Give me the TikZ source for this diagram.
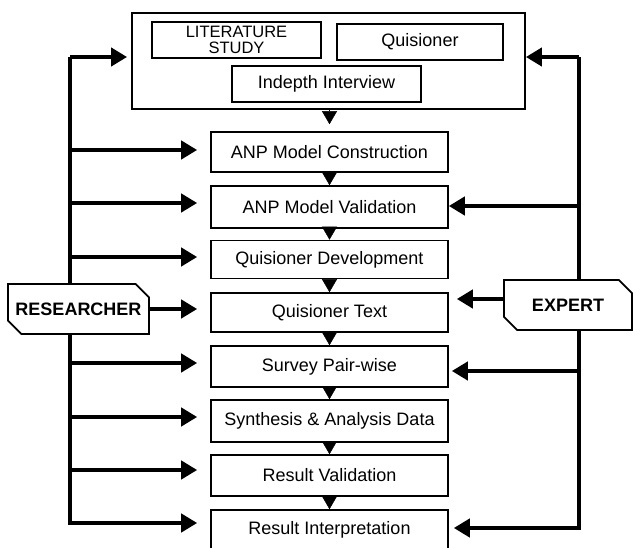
\documentclass[tikz,border=0pt]{standalone}
\usepackage{fontspec}
\setmainfont{Liberation Sans}
\usetikzlibrary{arrows.meta,shapes.misc}
\begin{document}
\begin{tikzpicture}[x=1pt,y=-1pt,
 stepbox/.style={draw, line width=1.6pt, fill=white, minimum width=237pt, minimum height=40pt, inner sep=0pt, font=\fontsize{18}{20}\selectfont},
 inbox/.style={draw, line width=1.6pt, fill=white, minimum height=36pt, inner sep=0pt, font=\fontsize{18}{20}\selectfont},
 outerbox/.style={draw, line width=1.8pt, fill=white, minimum width=393pt, minimum height=96pt, inner sep=0pt},
 actor/.style={draw, line width=1.8pt, fill=white, chamfered rectangle, chamfered rectangle corners={north east,south west}, chamfered rectangle xsep=7pt, chamfered rectangle ysep=7pt, minimum height=50pt, inner sep=0pt, font=\fontsize{18}{20}\selectfont\bfseries},
 harrow/.style={line width=4.5pt, -{Triangle[length=16pt,width=18pt]}},
 vline/.style={line width=4pt},
 darrow/.style={line width=0.4pt, -{Triangle[length=13pt,width=15pt]}}
]
\useasboundingbox (0,0) rectangle (633,548);

% top box
\node[outerbox] (top) at (328.5,61) {};
\node[inbox, minimum width=169pt, align=center, font=\fontsize{16.5}{16.5}\selectfont] (lit) at (236.5,40) {LITERATURE\\STUDY};
\node[inbox, minimum width=166pt] (qui) at (420,42) {Quisioner};
\node[inbox, minimum width=189pt] (ind) at (326.5,84) {Indepth Interview};

% steps
\node[stepbox] (s1) at (329.5,152) {ANP Model Construction};
\node[stepbox, minimum height=42pt] (s2) at (329.5,207) {ANP Model Validation};
\node[stepbox, minimum height=38pt] (s3) at (329.5,259.5) {Quisioner Development};
\node[stepbox, minimum height=39pt] (s4) at (329.5,312.5) {Quisioner Text};
\node[stepbox, minimum height=41pt] (s5) at (329.5,366.5) {Survey Pair-wise};
\node[stepbox, minimum height=42pt] (s6) at (329.5,421) {Synthesis \& Analysis Data};
\node[stepbox, minimum height=41pt] (s7) at (329.5,475.5) {Result Validation};
\node[stepbox] (s8) at (329.5,530) {Result Interpretation};

% down arrows
\draw[darrow, shorten >=7pt] (top.south -| s1.north) -- (s1.north);
\draw[darrow] (s1) -- (s2);
\draw[darrow] (s2) -- (s3);
\draw[darrow] (s3) -- (s4);
\draw[darrow] (s4) -- (s5);
\draw[darrow] (s5) -- (s6);
\draw[darrow] (s6) -- (s7);
\draw[darrow] (s7) -- (s8);

% researcher side
\coordinate (rtop) at (70,57);
\coordinate (rbot) at (70,525);
\draw[vline] (rbot) -- (rtop);
\draw[harrow, shorten >=4pt] (rtop) -- (rtop -| top.west);
\node[actor, minimum width=141pt] (res) at (78.5,309) {RESEARCHER};
\draw[harrow, shorten >=13pt] ([yshift=2pt]s1.west -| rtop) -- ([yshift=2pt]s1.west);
\draw[harrow, shorten >=13pt] ([yshift=4pt]s2.west -| rtop) -- ([yshift=4pt]s2.west);
\draw[harrow, shorten >=13pt] ([yshift=2.5pt]s3.west -| rtop) -- ([yshift=2.5pt]s3.west);
\draw[harrow, shorten >=13pt] (res.east) -- (res.east -| s4.west);
\draw[harrow, shorten >=13pt] ([yshift=3.5pt]s5.west -| rtop) -- ([yshift=3.5pt]s5.west);
\draw[harrow, shorten >=13pt] ([yshift=4pt]s6.west -| rtop) -- ([yshift=4pt]s6.west);
\draw[harrow, shorten >=13pt] ([yshift=5.5pt]s7.west -| rtop) -- ([yshift=5.5pt]s7.west);
\draw[harrow, shorten >=13pt] ([yshift=7pt]s8.west -| rtop) -- ([yshift=7pt]s8.west);

% expert side
\coordinate (etop) at (579,57);
\coordinate (ebot) at (579,530);
\draw[vline] (ebot) -- (etop);
\draw[harrow] (etop) -- (etop -| top.east);
\node[actor, minimum width=128pt] (exp) at (568,305) {EXPERT};
\draw[harrow] ([yshift=1pt]s2.east -| etop) -- ([yshift=1pt]s2.east);
\draw[harrow, shorten >=8pt] ([yshift=6pt]exp.west) -- ([yshift=6pt]exp.west -| s4.east);
\draw[harrow, shorten >=3pt] ([yshift=-4.5pt]s5.east -| etop) -- ([yshift=-4.5pt]s5.east);
\draw[harrow, shorten >=5pt] ([yshift=2pt]s8.east -| etop) -- ([yshift=2pt]s8.east);
\end{tikzpicture}
\end{document}
